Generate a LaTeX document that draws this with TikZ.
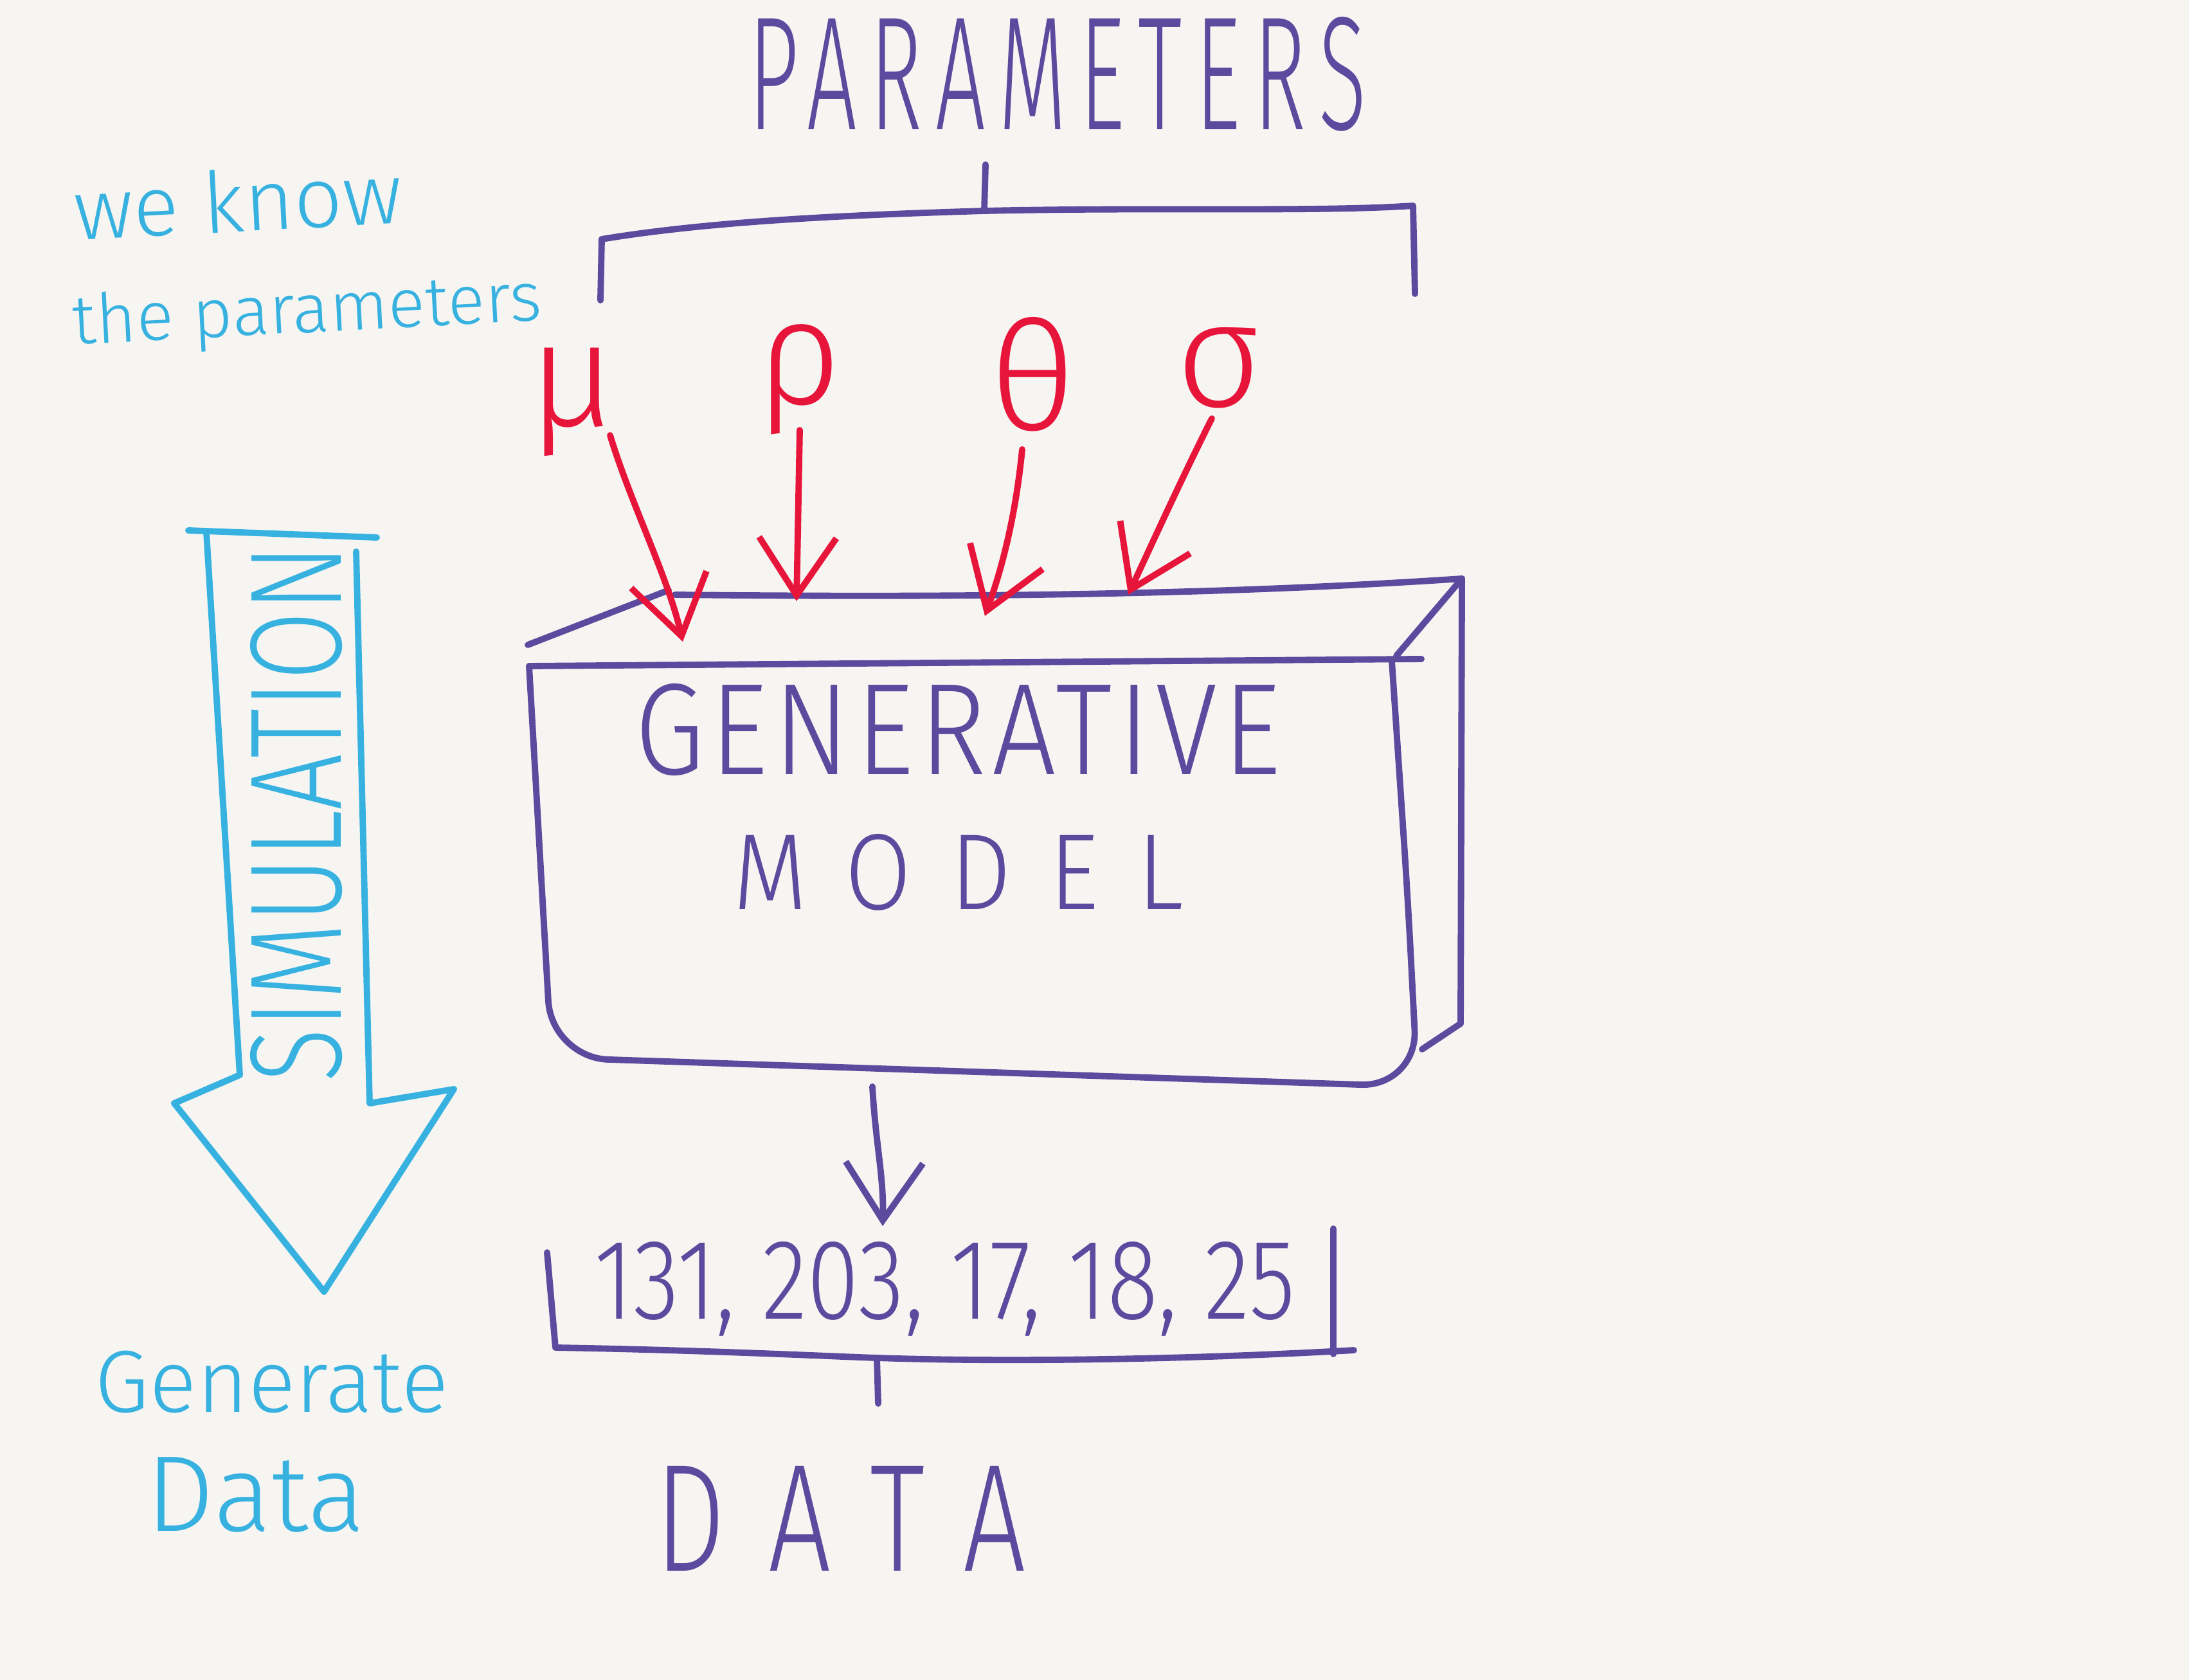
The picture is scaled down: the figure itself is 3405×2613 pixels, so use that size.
\documentclass[tikz,border=0pt]{standalone}
\usepackage{fontspec}
\setmainfont{Fira Sans}[UprightFont={* Light}]
\usetikzlibrary{arrows.meta}
\definecolor{bg}{HTML}{F6F5F2}
\definecolor{ink}{HTML}{5B4A9E}
\definecolor{redink}{HTML}{E8153B}
\definecolor{cyanink}{HTML}{36B1E0}
\begin{document}
\begin{tikzpicture}[x=0.01cm,y=-0.01cm,
  pen/.style={line width=2.8pt, line cap=round, line join=round},
  purplepen/.style={pen, draw=ink},
  redpen/.style={pen, draw=redink},
  cyanpen/.style={pen, draw=cyanink},
  vtip/.style={-{Straight Barb[length=0.9cm, width=1.2cm, line width=2.8pt]}},
  lbl/.style={inner sep=0pt, outer sep=0pt},
  purpletext/.style={lbl, text=ink},
  redtext/.style={lbl, text=redink},
  cyantext/.style={lbl, text=cyanink}]
\fill[bg] (0,0) rectangle (3405,2613);
\useasboundingbox (0,0) rectangle (3405,2613);

% ---------- PARAMETERS and brace ----------
\node[purpletext] (params) at (1645,115) {\resizebox{9.6cm}{1.75cm}{\addfontfeature{LetterSpace=15}PARAMETERS}};
\coordinate (brL) at (934,467);
\coordinate (brLt) at (936,372);
\coordinate (brC) at (1531,328);
\coordinate (brRt) at (2198,320);
\coordinate (brR) at (2201,457);
\coordinate (brTip) at (1533,256);
\draw[purplepen] (brL) -- (brLt) .. controls (1100,345) and (1300,335) .. (brC)
  .. controls (1800,322) and (2050,330) .. (brRt) -- (brR);
\draw[purplepen] (brC) -- (brTip);

% ---------- we know the parameters ----------
\node[cyantext, rotate=3] (weknow) at (370,312) {\resizebox{5.1cm}{!}{we know}};
\node[cyantext, rotate=3] (theparams) at (478,488) {\resizebox{7.3cm}{!}{the parameters}};

% ---------- Greek parameters ----------
\node[redtext] (mu) at (890,625) {\fontsize{66}{70}\selectfont μ};
\node[redtext] (rho) at (1244,590) {\fontsize{66}{70}\selectfont ρ};
\node[redtext] (theta) at (1607,582) {\resizebox{!}{1.75cm}{θ}};
\node[redtext] (sigma) at (1896,572) {\fontsize{66}{70}\selectfont σ};

% ---------- Generative model box ----------
\coordinate (fA) at (823,1036);
\coordinate (fB) at (2165,1028);
\coordinate (fBx) at (2211,1025);
\coordinate (fC) at (2205,1690);
\coordinate (fD) at (858,1645);
\coordinate (bA) at (1040,918);
\coordinate (bB) at (2274,900);
\coordinate (bC) at (2272,1592);
\draw[purplepen, rounded corners=25pt] (fA) -- (fD) -- (fC) -- (2190,1400) -- (fB);
\draw[purplepen] (fA) -- (fBx);
\draw[purplepen] (821,1003) -- (bA);
\draw[purplepen] (1050,925) .. controls (1500,930) and (1900,925) .. (bB);
\draw[purplepen] (2172,1020) -- (bB) -- (bC) -- (2212,1632);

\node[purpletext] (gen) at (1490,1135) {\resizebox{10.05cm}{1.41cm}{\addfontfeature{LetterSpace=5}GENERATIVE}};
\node[purpletext] (model) at (1491,1357) {\resizebox{7.0cm}{1.17cm}{\addfontfeature{LetterSpace=40}MODEL}};

% ---------- red arrows ----------
\coordinate (muS) at (949,677);
\coordinate (muT) at (1062,998);
\coordinate (rhoS) at (1244,669);
\coordinate (rhoT) at (1239,935);
\coordinate (thS) at (1590,699);
\coordinate (thT) at (1532,958);
\coordinate (sgS) at (1885,651);
\coordinate (sgT) at (1755,925);
\draw[redpen, vtip] (muS) .. controls (980,780) and (1040,900) .. (muT);
\draw[redpen, vtip] (rhoS) -- (rhoT);
\draw[redpen, vtip] (thS) .. controls (1580,800) and (1560,880) .. (thT);
\draw[redpen, vtip] (sgS) .. controls (1840,740) and (1790,850) .. (sgT);

% ---------- output arrow ----------
\coordinate (outS) at (1357,1690);
\coordinate (outT) at (1373,1907);
\draw[purplepen, vtip] (outS) .. controls (1362,1780) and (1375,1830) .. (outT);

% ---------- data bracket ----------
\node[purpletext] (nums) at (1470,2005) {\resizebox{10.9cm}{1.2cm}{131, 203, 17, 18, 25}};
\coordinate (dL) at (851,1948);
\coordinate (dLb) at (864,2096);
\coordinate (dRb) at (2106,2100);
\coordinate (dRt) at (2074,1911);
\coordinate (dRbb) at (2074,2106);
\coordinate (dTick) at (1364,2112);
\coordinate (dTickE) at (1366,2183);
\draw[purplepen] (dL) -- (dLb) .. controls (1100,2100) and (1300,2110) .. (dTick)
  .. controls (1600,2120) and (1900,2112) .. (dRb);
\draw[purplepen] (dRt) -- (dRbb);
\draw[purplepen] (dTick) -- (dTickE);

\node[purpletext] (data) at (1308,2362) {\resizebox{5.76cm}{1.63cm}{\addfontfeature{LetterSpace=40}DATA}};

% ---------- SIMULATION arrow ----------
\draw[cyanpen] (293,825) -- (586,836);
\draw[cyanpen] (321,827) -- (373,1672) -- (271,1716) -- (504,2009) -- (706,1694) -- (575,1716) -- (554,858);
\node[cyantext, rotate=90] (sim) at (461,1265) {\resizebox{8.36cm}{1.41cm}{SIMULATION}};

% ---------- Generate Data ----------
\node[cyantext] (generate) at (423,2150) {\resizebox{5.5cm}{!}{Generate}};
\node[cyantext] (gdata) at (398,2325) {\resizebox{3.4cm}{!}{Data}};
\end{tikzpicture}
\end{document}
